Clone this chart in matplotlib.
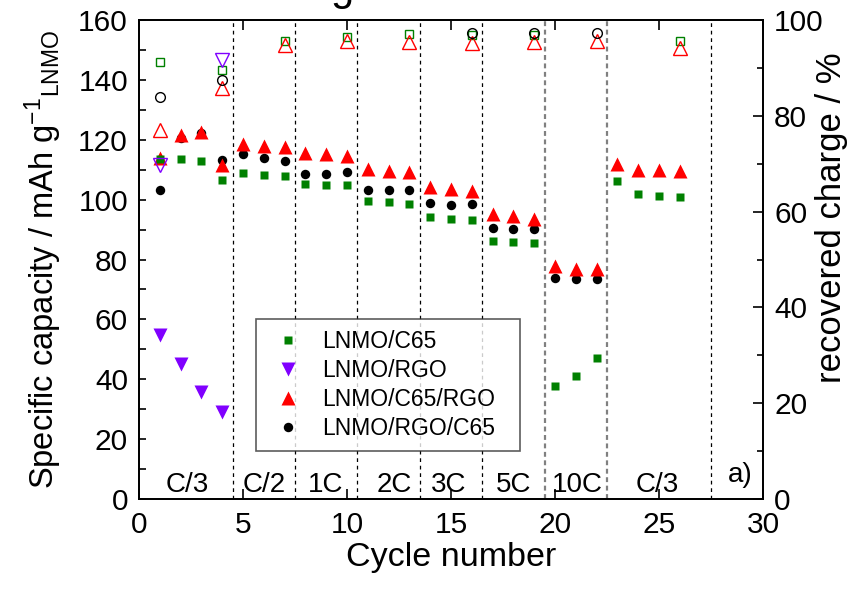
import matplotlib
matplotlib.use("Agg")
import matplotlib.pyplot as plt
from matplotlib.ticker import MultipleLocator

plt.rcParams['font.family'] = ['Liberation Sans', 'DejaVu Sans']
plt.rcParams['mathtext.fontset'] = 'custom'
plt.rcParams['mathtext.rm'] = 'Liberation Sans'
plt.rcParams['mathtext.it'] = 'Liberation Sans'

# specific capacity (left axis), mAh/g
cyc_c65 = list(range(1, 27))
cap_c65 = [113.6, 113.6, 113.0, 106.5, 109.0, 108.4, 108.0, 105.2, 104.9, 104.9,
           99.4, 99.1, 98.4, 94.2, 93.6, 93.3, 86.3, 86.0, 85.5, 37.6,
           41.1, 47.0, 106.2, 101.9, 101.2, 100.9]

cyc_rgo = [1, 2, 3, 4]
cap_rgo = [54.8, 45.0, 35.6, 28.9]

cyc_c65_rgo = list(range(1, 27))
cap_c65_rgo = [113.8, 121.7, 122.5, 111.7, 118.7, 118.1, 117.6, 115.6, 115.3, 114.7,
               110.3, 109.5, 109.1, 104.2, 103.7, 103.0, 95.3, 94.4, 93.6, 77.7,
               76.9, 76.9, 112.0, 109.8, 109.8, 109.5]

cyc_rgo_c65 = list(range(1, 23))
cap_rgo_c65 = [103.2, 120.6, 122.3, 113.4, 115.1, 113.8, 113.0, 108.7, 108.7, 109.1,
               103.2, 103.2, 103.2, 98.9, 98.3, 98.6, 90.5, 90.2, 90.2, 73.7,
               73.4, 73.4]

# recovered charge (right axis), %
rc_cyc_c65 = [1, 4, 7, 10, 13, 16, 19, 26]
rc_c65 = [91.2, 89.5, 95.7, 96.5, 97.1, 96.8, 96.8, 95.7]

rc_cyc_rgo = [1, 4]
rc_rgo = [69.8, 91.6]

rc_cyc_c65_rgo = [1, 4, 7, 10, 13, 16, 19, 22, 26]
rc_c65_rgo = [77.1, 85.9, 94.8, 95.6, 95.4, 95.3, 95.4, 95.6, 94.2]

rc_cyc_rgo_c65 = [1, 4, 16, 19, 22]
rc_rgo_c65 = [83.9, 87.4, 97.3, 97.3, 97.3]

# rate steps
black_lines = [4.5, 7.5, 10.5, 13.5, 16.5, 27.5]
grey_lines = [19.5, 22.5]
rate_labels = ["C/3", "C/2", "1C", "2C", "3C", "5C", "10C", "C/3"]
rate_x = [2.33, 6.04, 8.97, 12.28, 14.88, 18.0, 21.08, 24.93]

green = "#008000"
purple = "#8000FF"
red = "#FF0000"

fig = plt.figure(figsize=(8.56, 5.91), dpi=100)
fig.subplots_adjust(left=0.1624, right=0.8914, bottom=0.1557, top=0.966)
ax = fig.add_subplot(111)

for xv in black_lines:
    ax.axvline(xv, color="black", lw=0.9, ls=(0, (3, 3)), zorder=1)
for xv in grey_lines:
    ax.axvline(xv, color="#808080", lw=1.6, ls=(0, (2.2, 1.6)), zorder=1)

ax.plot(cyc_rgo_c65, cap_rgo_c65, "o", color="black", ms=6.8, mec="none", label="LNMO/RGO/C65", zorder=3)
ax.plot(cyc_c65_rgo, cap_c65_rgo, "^", color=red, ms=9.8, mec="none", label="LNMO/C65/RGO", zorder=4)
ax.plot(cyc_c65, cap_c65, "s", color=green, ms=5.5, mec="none", label="LNMO/C65", zorder=5)
ax.plot(cyc_rgo, cap_rgo, "v", color=purple, ms=9.8, mec="none", label="LNMO/RGO", zorder=5)

for lab, xv in zip(rate_labels, rate_x):
    ax.text(xv, 2.4, lab, ha="center", va="baseline", fontsize=20)
ax.text(28.92, 5.8, "a)", ha="center", va="baseline", fontsize=20)

ax.set_xlim(0, 30)
ax.set_ylim(0, 160)
ax.xaxis.set_major_locator(MultipleLocator(5))
ax.yaxis.set_major_locator(MultipleLocator(20))
ax.yaxis.set_minor_locator(MultipleLocator(10))
ax.tick_params(axis="x", which="major", direction="in", top=True, length=7, width=1.2,
               labelsize=21.5, pad=9)
ax.tick_params(axis="y", which="both", direction="in", length=5, width=1.2,
               labelsize=21.5, pad=8)
ax.set_xlabel("Cycle number", fontsize=24.5, labelpad=2)
ax.set_ylabel("Specific capacity / mAh g$^{-1}$$_{\\mathrm{LNMO}}$", fontsize=23.5, labelpad=10)
for s in ax.spines.values():
    s.set_linewidth(1.3)

ax2 = ax.twinx()
ax2.plot(rc_cyc_c65, rc_c65, "s", mfc="none", mec=green, ms=6, mew=1)
ax2.plot(rc_cyc_rgo, rc_rgo, "v", mfc="none", mec=purple, ms=9.5, mew=1)
ax2.plot(rc_cyc_c65_rgo, rc_c65_rgo, "^", mfc="none", mec=red, ms=9.5, mew=1)
ax2.plot(rc_cyc_rgo_c65, rc_rgo_c65, "o", mfc="none", mec="black", ms=7, mew=1)
ax2.set_ylim(0, 100)
ax2.yaxis.set_major_locator(MultipleLocator(20))
ax2.yaxis.set_minor_locator(MultipleLocator(10))
ax2.tick_params(axis="y", which="major", direction="in", length=7, width=1.2, labelsize=21.5, pad=8)
ax2.tick_params(axis="y", which="minor", direction="in", length=4, width=1.2)
ax2.set_ylabel("recovered charge / %", fontsize=25)
ax2.yaxis.set_label_coords(1.083, 0.587)
for s in ax2.spines.values():
    s.set_linewidth(1.3)

handles, labels = ax.get_legend_handles_labels()
order = ["LNMO/C65", "LNMO/RGO", "LNMO/C65/RGO", "LNMO/RGO/C65"]
hmap = dict(zip(labels, handles))
leg = ax2.legend([hmap[k] for k in order], order, loc="lower left",
                 bbox_to_anchor=(0.1875, 0.100, 0.4231, 0.267), mode="expand",
                 fontsize=16.5, frameon=True, fancybox=False, edgecolor="#333333",
                 borderaxespad=0, labelspacing=0.25, handletextpad=0.6,
                 borderpad=0.5, handlelength=1.8)
leg.get_frame().set_linewidth(1.2)

# cut-off title fragment at the top edge
fig.text(342 / 856, 1.0, "g", ha="center", va="baseline", fontsize=30)

fig.savefig("out.png", dpi=100)
